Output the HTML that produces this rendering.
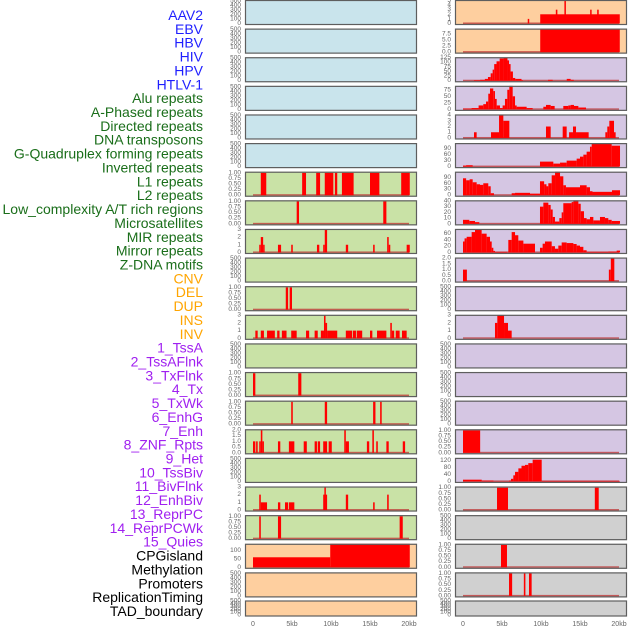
<!DOCTYPE html>
<html><head><meta charset="utf-8"><style>
html,body{margin:0;padding:0;background:#fff;width:630px;height:630px;overflow:hidden}
svg{display:block;font-family:"Liberation Sans",sans-serif}
</style></head><body>
<svg id="chart" width="630" height="630" viewBox="0 0 630 630" xmlns="http://www.w3.org/2000/svg"></svg>
<script>
// ---- track labels ----
const trackLabels=["AAV2","EBV","HBV","HIV","HPV","HTLV-1","Alu repeats","A-Phased repeats","Directed repeats","DNA transposons","G-Quadruplex forming repeats","Inverted repeats","L1 repeats","L2 repeats","Low_complexity A/T rich regions","Microsatellites","MIR repeats","Mirror repeats","Z-DNA motifs","CNV","DEL","DUP","INS","INV","1_TssA","2_TssAFlnk","3_TxFlnk","4_Tx","5_TxWk","6_EnhG","7_Enh","8_ZNF_Rpts","9_Het","10_TssBiv","11_BivFlnk","12_EnhBiv","13_ReprPC","14_ReprPCWk","15_Quies","CPGisland","Methylation","Promoters","ReplicationTiming","TAD_boundary"];
const labelGroups=[6,13,5,15,5];
const labelColors=["#1f1fff","#1a6e1a","#ffa500","#a020f0","#000000"];
// ---- x axis ----
const xTickVals=[0,5,10,15,20];
const xTickLabels=["0","5kb","10kb","15kb","20kb"];
// ---- tick sets ----
const ticksEmpty=[0,100,200,300,400,500];
const ticksBin=[0,0.25,0.5,0.75,1];
const ticksBinLab=["0.00","0.25","0.50","0.75","1.00"];
const ticks3=[0,1,2,3];
const ticks2=[0,0.5,1,1.5,2];
const ticks2Lab=["0.0","0.5","1.0","1.5","2.0"];
// ---- left column series [startKb,endKb,value] ----
const segsL6=[[1.0,1.7,1],[6.3,6.8,1],[8.1,8.6,1],[9.2,10.3,1],[10.5,10.8,1],[11.4,12.9,1],[15.0,16.2,1],[19.0,20.1,1]];
const segsL7=[[5.6,5.9,1],[16.7,17.1,1]];
const segsL8=[[0.8,1.0,1],[1.0,1.3,2],[1.3,1.45,1],[3.2,3.6,1],[4.9,5.1,1],[8.2,8.5,1],[9.0,9.2,1],[9.2,9.5,3],[11.9,12.2,1],[15.4,15.6,1],[17.2,17.4,2],[17.4,17.6,1],[19.7,20.1,1]];
const segsL10=[[4.2,4.5,1],[4.7,5.0,1]];
const segsL11=[[0.3,0.6,1],[1.0,1.4,1],[1.8,2.8,1],[3.1,3.4,1],[3.7,4.3,1],[4.9,5.6,1],[6.8,7.2,1],[7.9,8.3,1],[8.7,9.1,1],[9.1,9.3,3],[9.3,9.5,2],[9.5,10.8,1],[11.9,12.7,1],[12.8,13.2,1],[13.3,14.0,1],[15.0,15.3,1],[15.9,17.1,1],[17.6,17.8,2],[17.8,18.1,1],[18.3,18.8,1],[19.1,19.7,1]];
const segsL13=[[0,0.3,1],[5.8,6.2,1]];
const segsL14=[[4.9,5.1,1],[9.2,9.5,1],[15.4,15.7,1],[16.3,16.5,1]];
const segsL15=[[0,0.3,1],[0.4,0.6,1],[0.8,1.0,1],[1.0,1.2,2],[1.2,1.4,1],[3.2,3.5,1],[4.6,5.3,1],[6.5,6.9,1],[7.9,8.2,1],[8.3,8.6,1],[9.0,9.5,1],[9.7,10.1,1],[11.7,11.9,2],[11.9,12.3,1],[14.6,14.9,1],[15.3,15.5,2],[15.8,16.0,1],[17.1,17.4,1],[19.2,19.5,1]];
const segsL17=[[0.8,1.0,2],[1.0,1.8,1],[3.2,3.5,1],[4.1,4.5,1],[4.6,5.3,1],[9.0,9.15,2],[9.15,9.3,3],[9.3,9.5,2],[11.9,12.2,2],[15.4,15.6,1],[17.2,17.4,2]];
const segsL18=[[0.8,1.0,1],[3.2,3.6,1],[18.8,19.2,1]];
const segsL19=[[0,9.9,60],[9.9,20.1,141]];
// ---- right column series ----
const segsR0=[[8.3,8.4,1],[9.9,20.1,2],[11.9,12.1,3],[13.0,13.1,5],[16.3,16.4,3],[17.2,17.4,3]];
const segsR1=[[9.9,20.1,10]];
const segsR2=[[1.4,2.2,3],[2.2,2.8,5],[2.8,3.2,10],[3.2,3.55,20],[3.55,3.8,40],[3.8,4.0,60],[4.0,4.3,90],[4.3,4.7,105],[4.7,5.2,120],[5.2,5.7,125],[5.7,5.9,110],[5.9,6.1,90],[6.1,6.4,50],[6.4,6.7,15],[6.7,7.5,10],[7.5,7.7,3],[10.9,11.5,5],[13.3,13.8,10],[13.8,14.2,5]];
const segsR3=[[0,1.1,3],[1.1,2.0,5],[2.0,2.6,15],[2.6,2.95,20],[2.95,3.24,30],[3.24,3.46,60],[3.46,3.88,80],[3.88,4.1,70],[4.1,4.32,40],[4.32,4.74,15],[4.74,5.08,5],[5.08,5.38,15],[5.38,5.68,40],[5.68,5.94,75],[5.94,6.37,90],[6.37,6.67,50],[6.67,6.88,15],[6.88,8.16,10],[8.16,8.93,5],[10.3,10.64,10],[10.64,11.24,17],[11.24,11.75,13],[12.86,13.5,13],[13.5,13.8,15],[13.8,14.23,17],[14.23,14.79,13],[14.79,15.77,7]];
const segsR4=[[1.41,1.75,1],[3.59,4.62,1],[4.62,5.17,4],[5.17,5.94,3],[10.64,11.24,2],[12.78,13.29,2],[13.6,14.1,1],[14.1,14.49,2],[14.49,16.11,1],[18.25,18.5,1],[18.5,18.76,2],[18.76,19.36,3],[19.36,19.57,1]];
const segsR5=[[0,0.4,5],[0.4,1.24,7],[9.87,11.58,25],[11.58,12.44,15],[12.44,13.29,20],[13.29,14.57,30],[14.57,15.0,40],[15.0,15.43,50],[15.43,15.85,60],[15.85,16.28,75],[16.28,16.5,100],[16.5,19.06,118],[19.06,20.13,105]];
const segsR6=[[0,0.4,85],[0.4,0.85,75],[0.85,1.24,80],[1.24,1.75,65],[1.75,2.18,55],[2.18,2.6,52],[2.6,3.24,60],[3.24,3.55,45],[3.55,3.97,10],[6.24,6.67,10],[6.67,8.59,12],[8.59,9.87,8],[9.87,10.4,70],[10.4,10.7,55],[10.7,10.94,45],[10.94,11.37,60],[11.37,11.8,100],[11.8,12.44,118],[12.44,12.86,95],[12.86,13.2,50],[13.2,15.0,40],[15.0,15.85,50],[15.85,16.28,40],[16.28,16.6,20],[16.6,19.1,17],[19.1,20.13,25]];
const segsR7=[[0,0.81,7],[0.81,1.54,5],[1.54,2.09,3],[9.87,10.3,30],[10.3,10.94,37],[10.94,11.24,33],[11.24,11.5,25],[11.5,11.79,12],[11.79,12.35,4],[12.35,12.65,10],[12.65,12.86,20],[12.86,13.93,36],[13.93,14.15,38],[14.15,14.79,41],[14.79,15.09,35],[15.09,15.51,22],[15.51,15.85,10],[15.85,16.28,8],[16.28,16.71,12],[16.71,17.56,6],[17.56,18.2,12],[18.2,18.63,10],[18.63,19.06,7],[19.06,20.13,5]];
const segsR8=[[0,0.2,35],[0.2,0.47,45],[0.47,1.11,50],[1.11,1.54,65],[1.54,2.39,72],[2.39,3.03,60],[3.03,3.46,50],[3.46,3.68,35],[3.68,3.89,15],[3.89,4.1,5],[4.1,5.68,2],[5.81,6.24,40],[6.24,6.67,65],[6.67,7.09,55],[7.09,7.74,38],[7.74,9.23,28],[9.87,10.21,15],[10.21,10.51,28],[10.51,11.37,35],[11.37,11.79,20],[11.79,12.22,12],[12.22,12.65,22],[12.65,13.29,32],[13.29,14.15,30],[14.15,14.57,27],[14.57,15.0,22],[15.0,15.43,18],[15.43,15.85,7],[15.85,18.63,2],[18.63,19.7,3],[19.7,20.13,6]];
const segsR9=[[0,0.5,1],[18.7,18.95,1],[18.95,19.4,2]];
const segsR11=[[4.1,4.4,2],[4.4,5.26,3],[5.26,5.77,2],[5.77,6.24,1]];
const segsR15=[[0,2.2,1]];
const segsR16=[[0,2.4,10],[2.4,3.9,5],[3.9,5.9,1],[5.9,6.15,5],[6.15,6.45,15],[6.45,6.67,35],[6.67,7.1,55],[7.1,7.5,75],[7.5,7.95,90],[7.95,8.37,95],[8.37,8.93,105],[8.93,10.09,125],[10.09,20.13,3]];
const segsR17=[[4.36,5.77,1],[16.9,17.4,1]];
const segsR19=[[4.87,5.64,1]];
const segsR20=[[5.9,6.3,1],[7.8,8.0,1],[8.46,8.8,1]];

const BLUE="#c9e4ec",GREEN="#c9e2a6",ORANGE="#fecf9f",PURPLE="#d5c6e3",GRAY="#d0d0d0";
function P(col,row,bg,ymax,ticks,labs,segs,name){return {col,row,bg,ymax,ticks,labs,segs,name};}
const E=[]; const EL=null;
const panels=[];
for(let r=0;r<6;r++) panels.push(P(0,r,BLUE,520,ticksEmpty,EL,E,'left-track-'+r));
const leftData={6:[1.05,ticksBin,ticksBinLab,segsL6],7:[1.05,ticksBin,ticksBinLab,segsL7],8:[3.05,ticks3,EL,segsL8],9:[520,ticksEmpty,EL,E],10:[1.05,ticksBin,ticksBinLab,segsL10],11:[3.05,ticks3,EL,segsL11],12:[520,ticksEmpty,EL,E],13:[1.05,ticksBin,ticksBinLab,segsL13],14:[1.05,ticksBin,ticksBinLab,segsL14],15:[2.05,ticks2,ticks2Lab,segsL15],16:[520,ticksEmpty,EL,E],17:[3.05,ticks3,EL,segsL17],18:[1.05,ticksBin,ticksBinLab,segsL18]};
for(let r=6;r<19;r++){const d=leftData[r];panels.push(P(0,r,GREEN,d[0],d[1],d[2],d[3],'left-track-'+r));}
panels.push(P(0,19,ORANGE,141,[0,50,100],EL,segsL19,'left-track-19'));
panels.push(P(0,20,ORANGE,520,ticksEmpty,EL,E,'left-track-20'));
panels.push(P(0,21,ORANGE,520,ticksEmpty,EL,E,'left-track-21'));
panels.push(P(1,0,ORANGE,5.1,[0,1,2,3,4,5],EL,segsR0,'right-track-0'));
panels.push(P(1,1,ORANGE,9.6,[0,2.5,5,7.5],["0.0","2.5","5.0","7.5"],segsR1,'right-track-1'));
const rightData={2:[127,[0,25,50,75,100,125],segsR2],3:[90,[0,25,50,75],segsR3],4:[4.1,[0,1,2,3,4],segsR4],5:[118,[0,30,60,90],segsR5],6:[118,[0,30,60,90],segsR6],7:[41,[0,10,20,30,40],segsR7],8:[75,[0,20,40,60],segsR8],9:[2.05,ticks2,segsR9],10:[520,ticksEmpty,E],11:[3.05,ticks3,segsR11],12:[520,ticksEmpty,E],13:[520,ticksEmpty,E],14:[520,ticksEmpty,E],15:[1.05,ticksBin,segsR15],16:[135,[0,40,80,120],segsR16]};
for(let r=2;r<17;r++){const d=rightData[r];panels.push(P(1,r,PURPLE,d[0],d[1],d[1]===ticks2?ticks2Lab:(d[1]===ticksBin?ticksBinLab:EL),d[2],'right-track-'+r));}
const grayData={17:[1.05,ticksBin,ticksBinLab,segsR17],18:[520,ticksEmpty,EL,E],19:[1.05,ticksBin,ticksBinLab,segsR19],20:[1.05,ticksBin,ticksBinLab,segsR20],21:[520,ticksEmpty,EL,E]};
for(let r=17;r<22;r++){const d=grayData[r];panels.push(P(1,r,GRAY,d[0],d[1],d[2],d[3],'right-track-'+r));}

const NS="http://www.w3.org/2000/svg";
const svg=document.getElementById('chart');
function mk(tag,attrs,parent){const e=document.createElementNS(NS,tag);for(const k in attrs)e.setAttribute(k,attrs[k]);(parent||svg).appendChild(e);return e;}
function xs(col,kb){return (col?463:253)+kb*7.8;}

// labels
let li=0;
labelGroups.forEach((n,g)=>{for(let i=0;i<n;i++){const t=mk('text',{x:203,y:15+li*13.86,'text-anchor':'end','dominant-baseline':'central','font-size':'14',fill:labelColors[g]});


t.textContent=trackLabels[li];li++;}});

panels.forEach(p=>{
  const top=p.row<21?p.row*28.62:600.5, h=p.row<21?25:16;
  const x0=p.col?455:245, w=172, bottom=top+h;
  const g=mk('g',{});
  
  
  const bg=mk('rect',{x:x0,y:top,width:w,height:h,fill:p.bg},g);
  
  
  const y=v=>bottom-1.5-Math.min(v,p.ymax)*(h-1.5)/p.ymax;
  if(p.segs.length){
    const bl=mk('rect',{x:xs(p.col,0),y:bottom-2.5,width:xs(p.col,20)-xs(p.col,0),height:1.5,fill:'rgba(190,50,50,0.75)'},g);
    
    
  }
  p.segs.forEach(s=>{
    const a=xs(p.col,s[0]),b=xs(p.col,s[1]);
    const yy=y(s[2]);
    const r=mk('rect',{x:a,y:yy,width:Math.max(b-a,1.5),height:bottom-1.5-yy,fill:'#ff0000'},g);
    
    
  });
  const fr=mk('rect',{x:x0+0.5,y:top+0.5,width:w-1,height:h-1,fill:'none',stroke:'#5e5e5e','stroke-width':1.2},g);
  
  
  p.ticks.forEach((t,i)=>{
    const tx=mk('text',{x:p.col?451:241,y:y(t),'text-anchor':'end','dominant-baseline':'central','font-size':'6.5',fill:'#666'},g);
    
    
    tx.textContent=p.labs?p.labs[i]:String(t);
  });
});
[0,1].forEach(col=>{xTickVals.forEach((v,i)=>{
  const t=mk('text',{x:xs(col,v),y:626,'text-anchor':'middle','font-size':'7',fill:'#666'});
  
  
  t.textContent=xTickLabels[i];
});});
</script>
</body></html>
